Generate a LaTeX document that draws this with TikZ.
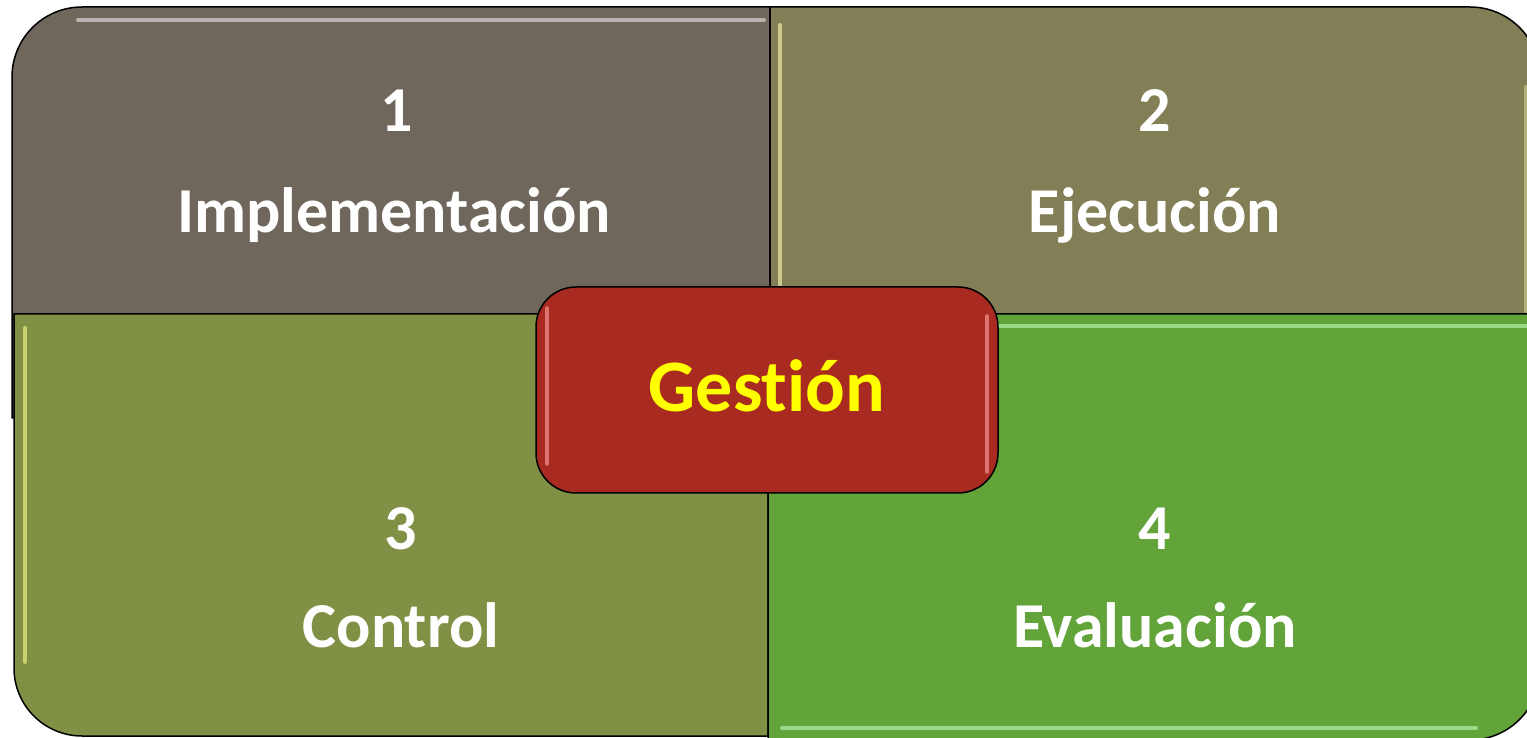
\documentclass[tikz,border=0pt]{standalone}
\usepackage{fontspec}
\setmainfont{Carlito}[Ligatures=NoCommon]
\definecolor{qone}{HTML}{6F675C}
\definecolor{qtwo}{HTML}{827E55}
\definecolor{qthree}{HTML}{809146}
\definecolor{qfour}{HTML}{62A33A}
\definecolor{gred}{HTML}{A82A20}
\definecolor{gyellow}{HTML}{FFFF00}
\tikzset{
  quad/.style={draw=black, line width=1.5pt},
  glint/.style={line width=4pt, line cap=round, opacity=0.6},
  numtext/.style={text=white, font=\fontsize{64}{70}\selectfont\bfseries, anchor=base, inner sep=0pt},
  wordtext/.style={text=white, font=\fontsize{64}{70}\selectfont\bfseries, anchor=base, inner sep=0pt},
  centerbox/.style={draw=black, line width=1.5pt, fill=gred, rounded corners=40pt,
    minimum width=462pt, minimum height=206pt, inner sep=0pt},
  centertext/.style={text=gyellow, font=\fontsize{74}{80}\selectfont\bfseries, anchor=base, inner sep=0pt}
}
\begin{document}
\begin{tikzpicture}[x=1pt,y=1pt]
\useasboundingbox (0,0) rectangle (1527,737);
\clip (0,0) rectangle (1527,737);
% quadrant 1 (top-left)
\draw[quad, fill=qone] (12,319) -- (12,660) arc[start angle=180,end angle=90,radius=70] -- (770,730) -- (770,319) -- cycle;
\draw[glint, draw=white!85!qone] (78,717) -- (764,717);
% quadrant 2 (top-right)
\draw[quad, fill=qtwo] (770,423) -- (770,730) -- (1470,730) arc[start angle=90,end angle=0,radius=70] -- (1540,423) -- cycle;
\draw[glint, draw=yellow!30!white] (780,712) -- (780,426);
\draw[glint, draw=yellow!30!white, opacity=0.4] (1526,650) -- (1526,426);
% quadrant 3 (bottom-left)
\draw[quad, fill=qthree] (14,423) -- (768,423) -- (768,1) -- (82,1) arc[start angle=270,end angle=180,radius=68] -- cycle;
\draw[glint, draw=yellow!45!white] (25,409) -- (25,75);
% quadrant 4 (bottom-right)
\draw[quad, fill=qfour] (768,423) -- (1540,423) -- (1540,67) arc[start angle=0,end angle=-90,radius=70] -- (768,-3) -- cycle;
\draw[glint, draw=green!25!white] (780,411) -- (1527,411);
\draw[glint, draw=green!25!white] (782,9) -- (1476,9);
% centre box
\node[centerbox] (gestion) at (767,347) {};
\draw[glint, draw=red!35!white, opacity=0.6] ([xshift=12pt,yshift=-22pt]gestion.north west) -- ([xshift=12pt,yshift=30pt]gestion.south west);
\draw[glint, draw=red!35!white, opacity=0.6] ([xshift=-12pt,yshift=-30pt]gestion.north east) -- ([xshift=-12pt,yshift=22pt]gestion.south east);
\node[centertext] (gtext) at (767,325) {Gestión};
% labels
\node[numtext] (n1) at (397,605) {1};
\node[wordtext] (w1) at (394,504) {Implementación};
\node[numtext] (n2) at (1155,605) {2};
\node[wordtext] (w2) at (1155,504) {Ejecución};
\node[numtext] (n3) at (401,187) {3};
\node[wordtext] (w3) at (401,90) {Control};
\node[numtext] (n4) at (1155,187) {4};
\node[wordtext] (w4) at (1155,90) {Evaluación};
\end{tikzpicture}
\end{document}
